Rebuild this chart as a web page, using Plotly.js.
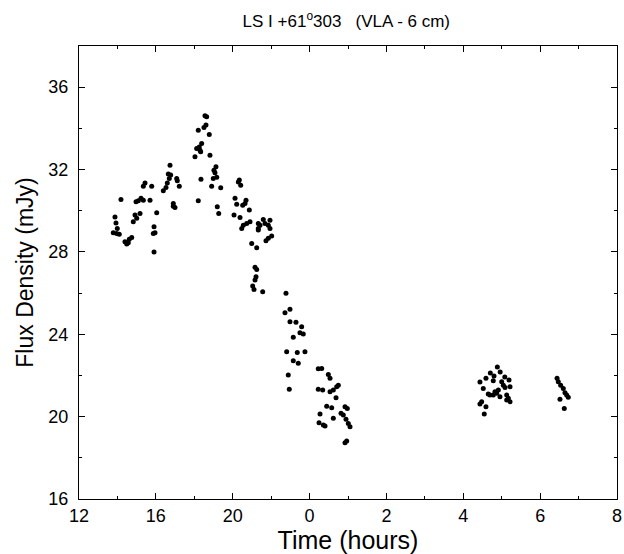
<!DOCTYPE html>
<html>
<head>
<meta charset="utf-8">
<script src="https://cdn.plot.ly/plotly-3.0.1.min.js"></script>
<style>html,body{margin:0;padding:0;background:#fff;}#chart{width:624px;height:554px;}</style>
</head>
<body>
<div id="chart"></div>
<script>
// x positions are in axis units (one unit per labelled tick)
const xTickVals = [0, 1, 2, 3, 4, 5, 6, 7];
const xTickText = ["12", "16", "20", "0", "2", "4", "6", "8"];
const yTickVals = [16, 20, 24, 28, 32, 36];
const yTickText = ["16", "20", "24", "28", "32", "36"];

const time = [
  0.546, 0.468, 0.481, 0.446, 0.490, 0.524, 0.498, 0.598, 0.621, 0.654,
  0.686, 0.641, 0.706, 0.729, 0.751, 0.794, 0.772, 0.807, 0.837, 0.742,
  0.837, 0.859, 0.946, 0.924, 1.011, 0.976, 0.989, 0.967, 0.976, 1.097,
  1.132, 1.149, 1.175, 1.162, 1.193, 1.184, 1.227, 1.249, 1.227, 1.271,
  1.305, 1.279, 1.509, 1.531, 1.565, 1.574, 1.596, 1.583, 1.552, 1.626,
  1.652, 1.661, 1.639, 1.695, 1.552, 1.587, 1.704, 1.726, 1.747, 1.769,
  1.782, 1.756, 1.792, 1.844, 1.799, 1.818, 2.030, 2.052, 2.086, 2.104,
  2.073, 2.130, 2.173, 2.160, 2.216, 2.017, 2.095, 2.138, 2.117, 2.182,
  2.225, 2.247, 2.312, 2.333, 2.333, 2.355, 2.333, 2.398, 2.420, 2.485,
  2.463, 2.485, 2.507, 2.463, 2.433, 2.290, 2.312, 2.303, 2.290, 2.260,
  2.277, 2.390, 2.693, 2.745, 2.680, 2.745, 2.823, 2.897, 2.875, 2.918,
  2.788, 2.702, 2.840, 2.940, 2.788, 2.853, 2.723, 2.736, 3.113, 3.158,
  3.244, 3.266, 3.113, 3.171, 3.266, 3.309, 3.353, 3.374, 3.344, 3.223,
  3.288, 3.461, 3.491, 3.409, 3.439, 3.136, 3.309, 3.474, 3.504, 3.526,
  3.123, 3.179, 3.201, 3.483, 3.461,
  5.390, 5.500, 5.521, 5.543, 5.608, 5.260, 5.325, 5.347, 5.390, 5.412,
  5.434, 5.477, 5.456, 5.565, 5.586, 5.608, 5.565, 5.239, 5.217, 5.295,
  5.273, 5.443, 5.352, 5.480, 5.400, 5.295, 5.540, 5.217, 5.595,
  6.236, 6.267, 6.301, 6.323, 6.345, 6.366, 6.258, 6.314, 6.220
];

const flux = [
  30.55, 29.70, 29.41, 28.93, 28.90, 28.86, 29.14, 28.49, 28.38, 28.61,
  28.70, 28.44, 29.46, 29.79, 29.63, 29.87, 30.48, 30.60, 30.51, 30.43,
  31.19, 31.35, 31.19, 30.51, 29.90, 29.22, 28.93, 28.90, 28.00, 30.97,
  31.13, 31.35, 31.57, 31.78, 31.73, 32.21, 30.22, 30.16, 30.35, 31.57,
  31.19, 31.45, 32.62, 33.02, 33.10, 32.94, 33.27, 32.86, 33.91, 34.04,
  34.16, 34.56, 34.61, 33.70, 30.48, 31.53, 32.70, 31.19, 31.57, 31.84,
  32.13, 31.97, 31.62, 31.11, 30.19, 29.87, 30.60, 30.32, 31.49, 31.24,
  31.40, 30.27, 30.51, 30.35, 30.03, 29.79, 29.67, 29.30, 29.14, 29.38,
  29.46, 28.41, 28.20, 29.38, 29.14, 29.30, 29.06, 29.58, 29.38, 29.54,
  29.30, 29.14, 28.77, 28.66, 28.54, 27.25, 27.15, 26.79, 26.63, 26.34,
  26.18, 26.06, 25.99, 25.22, 25.04, 24.61, 24.58, 24.36, 24.07, 24.01,
  23.85, 23.15, 23.12, 23.15, 22.71, 22.59, 22.02, 21.33, 22.33, 22.34,
  22.05, 21.86, 21.33, 21.29, 21.21, 21.29, 21.45, 21.52, 20.92, 20.51,
  20.43, 20.48, 20.40, 20.16, 20.08, 20.13, 19.92, 19.87, 19.67, 19.51,
  19.70, 19.59, 19.54, 18.82, 18.73,
  21.74, 21.69, 21.53, 21.42, 21.45, 21.37, 21.10, 21.05, 21.05, 21.21,
  21.13, 20.97, 21.29, 21.05, 20.89, 20.72, 20.81, 20.72, 20.61, 20.48,
  20.13, 22.41, 22.12, 22.17, 21.97, 21.87, 21.92, 21.68, 21.78,
  21.69, 21.53, 21.37, 21.16, 21.05, 20.94, 20.85, 20.40, 21.87
];

const fontFam = 'Arial, "Liberation Sans", Helvetica, sans-serif';

const trace = {
  x: time,
  y: flux,
  type: 'scatter',
  mode: 'markers',
  marker: {color: '#000', size: 5, line: {width: 0}},
  hoverinfo: 'skip',
  showlegend: false
};

const axisCommon = {
  showgrid: false,
  zeroline: false,
  showline: true,
  linecolor: '#000',
  linewidth: 1,
  mirror: 'ticks',
  ticks: 'inside',
  ticklen: 6,
  tickwidth: 1,
  tickcolor: '#000',
  tickfont: {family: fontFam, size: 18, color: '#000'}
};

const layout = {
  width: 624,
  height: 554,
  margin: {l: 79, r: 7, t: 46, b: 55},
  paper_bgcolor: '#fff',
  plot_bgcolor: '#fff',
  title: {
    text: 'LS I +61<sup>o</sup>303\u00A0\u00A0\u00A0(VLA - 6 cm)',
    font: {family: fontFam, size: 17, color: '#000'},
    x: 0.555, xanchor: 'center',
    y: 0.962, yanchor: 'middle'
  },
  xaxis: Object.assign({}, axisCommon, {
    range: [0, 7],
    tickmode: 'array',
    tickvals: xTickVals,
    ticktext: xTickText,
    minor: {tickmode: 'linear', tick0: 0, dtick: 0.5, ticks: 'inside', ticklen: 3, tickcolor: '#000'},
    title: {text: 'Time (hours)', font: {family: fontFam, size: 25, color: '#000'}, standoff: 4}
  }),
  yaxis: Object.assign({}, axisCommon, {
    range: [16, 38],
    tickmode: 'array',
    tickvals: yTickVals,
    ticktext: yTickText,
    ticklabelstandoff: 6,
    minor: {tickmode: 'linear', tick0: 16, dtick: 2, ticks: 'inside', ticklen: 3, tickcolor: '#000'},
    title: {text: 'Flux Density (mJy)', font: {family: fontFam, size: 23, color: '#000'}, standoff: 8}
  })
};

Plotly.newPlot('chart', [trace], layout, {displayModeBar: false, staticPlot: true});
</script>
</body>
</html>
